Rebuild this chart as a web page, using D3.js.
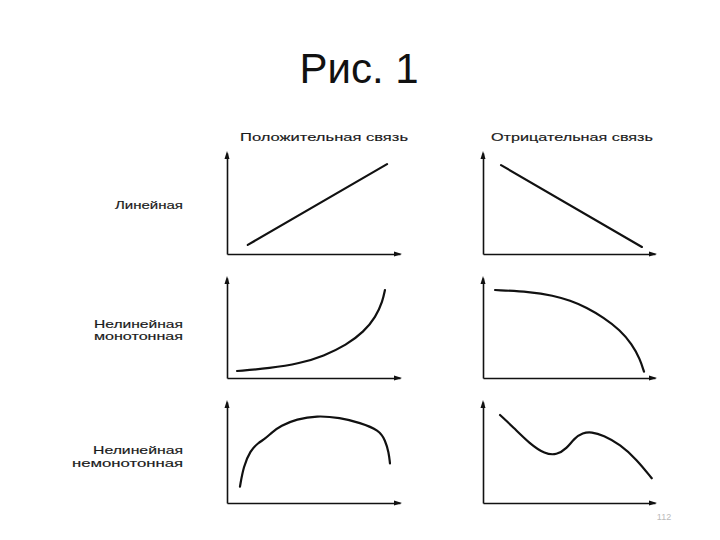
<!DOCTYPE html>
<html>
<head>
<meta charset="utf-8">
<script src="https://cdn.jsdelivr.net/npm/d3@7"></script>
<style>
  html, body { margin: 0; padding: 0; background: #fff; }
  svg { display: block; }
  text { font-family: "Liberation Sans", Arial, sans-serif; }
</style>
</head>
<body>
<svg id="chart" width="720" height="540"></svg>
<script>
// ---- Data ----
const title = "Рис. 1";
const columnHeaders = ["Положительная связь", "Отрицательная связь"];
const rowLabels = [["Линейная"], ["Нелинейная", "монотонная"], ["Нелинейная", "немонотонная"]];
const pageNumber = "112";

// curves in data units (x: 0..10, y: 0..10) for each panel
const linearPositive = [[1.2, 0.9], [9.25, 8.9]];
const linearNegative = [[1.05, 8.8], [9.24, 0.7]];
const monoPositive = [[0.58, 0.7], [2.49, 0.97], [4.2, 1.45], [5.6, 2.2], [6.9, 3.3], [7.9, 4.6], [8.6, 6.1], [9.0, 7.7], [9.13, 8.8]];
const monoNegative = [[0.7, 8.8], [2.73, 8.63], [4.09, 8.25], [5.06, 7.75], [6.03, 7.05], [7.0, 6.05], [7.97, 4.8], [8.65, 3.4], [9.13, 1.9], [9.36, 0.63]];
const nonMonoPositive = [[0.75, 1.62], [0.95, 3.6], [1.35, 5.2], [1.8, 5.95], [2.2, 6.35], [2.6, 7.0], [3.1, 7.65], [4.03, 8.3], [5.18, 8.65], [6.53, 8.45], [7.69, 7.95], [8.8, 7.2], [9.15, 6.2], [9.35, 5.0], [9.42, 3.93]];
const nonMonoNegative = [[0.99, 8.71], [1.76, 7.5], [2.73, 5.85], [3.6, 4.85], [4.28, 4.75], [4.87, 5.4], [5.3, 6.4], [5.8, 6.95], [6.3, 7.05], [7.0, 6.7], [7.97, 5.8], [8.94, 4.3], [9.81, 2.45]];

const panelData = [
  [linearPositive, linearNegative],
  [monoPositive, monoNegative],
  [nonMonoPositive, nonMonoNegative]
];

// ---- Layout ----
const svg = d3.select("#chart");
const colX = [[227, 400], [483, 655]];
const rowY = [[254, 153], [378, 278], [503, 402]];

svg.append("text")
  .attr("x", 359).attr("y", 83)
  .attr("text-anchor", "middle")
  .attr("font-size", 42)
  .attr("fill", "#111")
  .text(title);

const headerCenters = [324, 572];
const headerWidths = [168, 162];
columnHeaders.forEach((h, i) => {
  svg.append("text")
    .attr("x", headerCenters[i]).attr("y", 141)
    .attr("text-anchor", "middle")
    .attr("font-size", 11)
    .attr("fill", "#1a1a1a")
    .attr("stroke", "#1a1a1a").attr("stroke-width", 0.15)
    .attr("textLength", headerWidths[i])
    .attr("lengthAdjust", "spacingAndGlyphs")
    .text(h);
});

const labelBaselines = [[209], [328, 339.5], [454, 466.5]];
const labelWidths = [[68], [89, 89], [90, 111]];
rowLabels.forEach((lines, r) => {
  lines.forEach((ln, k) => {
    svg.append("text")
      .attr("x", 183).attr("y", labelBaselines[r][k])
      .attr("text-anchor", "end")
      .attr("font-size", 10.5)
      .attr("fill", "#1a1a1a")
      .attr("stroke", "#1a1a1a").attr("stroke-width", 0.15)
      .attr("textLength", labelWidths[r][k])
      .attr("lengthAdjust", "spacingAndGlyphs")
      .text(ln);
  });
});

const line = d3.line().curve(d3.curveBasis);

panelData.forEach((row, r) => {
  row.forEach((pts, c) => {
    const x = d3.scaleLinear().domain([0, 10]).range(colX[c]);
    const y = d3.scaleLinear().domain([0, 10]).range(rowY[r]);
    const g = svg.append("g");

    g.append("g")
      .attr("transform", `translate(0,${y(0)})`)
      .call(d3.axisBottom(x).tickValues([]).tickSizeOuter(0))
      .call(s => s.select(".domain").attr("stroke", "#111").attr("stroke-width", 1.6));
    g.append("g")
      .attr("transform", `translate(${x(0)},0)`)
      .call(d3.axisLeft(y).tickValues([]).tickSizeOuter(0))
      .call(s => s.select(".domain").attr("stroke", "#111").attr("stroke-width", 1.6));

    // arrowheads
    const ex = x(10), ey = y(0);
    g.append("path")
      .attr("d", `M${ex + 2},${ey} L${ex - 6},${ey - 2.5} L${ex - 6},${ey + 2.5} Z`)
      .attr("fill", "#111");
    const tx = x(0), ty = y(10);
    g.append("path")
      .attr("d", `M${tx},${ty - 2} L${tx - 2.5},${ty + 6} L${tx + 2.5},${ty + 6} Z`)
      .attr("fill", "#111");

    g.append("path")
      .attr("d", line(pts.map(p => [x(p[0]), y(p[1])])))
      .attr("fill", "none")
      .attr("stroke", "#111")
      .attr("stroke-width", 2.2)
      .attr("stroke-linecap", "round")
      .attr("stroke-linejoin", "round");
  });
});

svg.append("text")
  .attr("x", 664).attr("y", 520)
  .attr("text-anchor", "middle")
  .attr("font-size", 9)
  .attr("fill", "#bbb")
  .text(pageNumber);
</script>
</body>
</html>
